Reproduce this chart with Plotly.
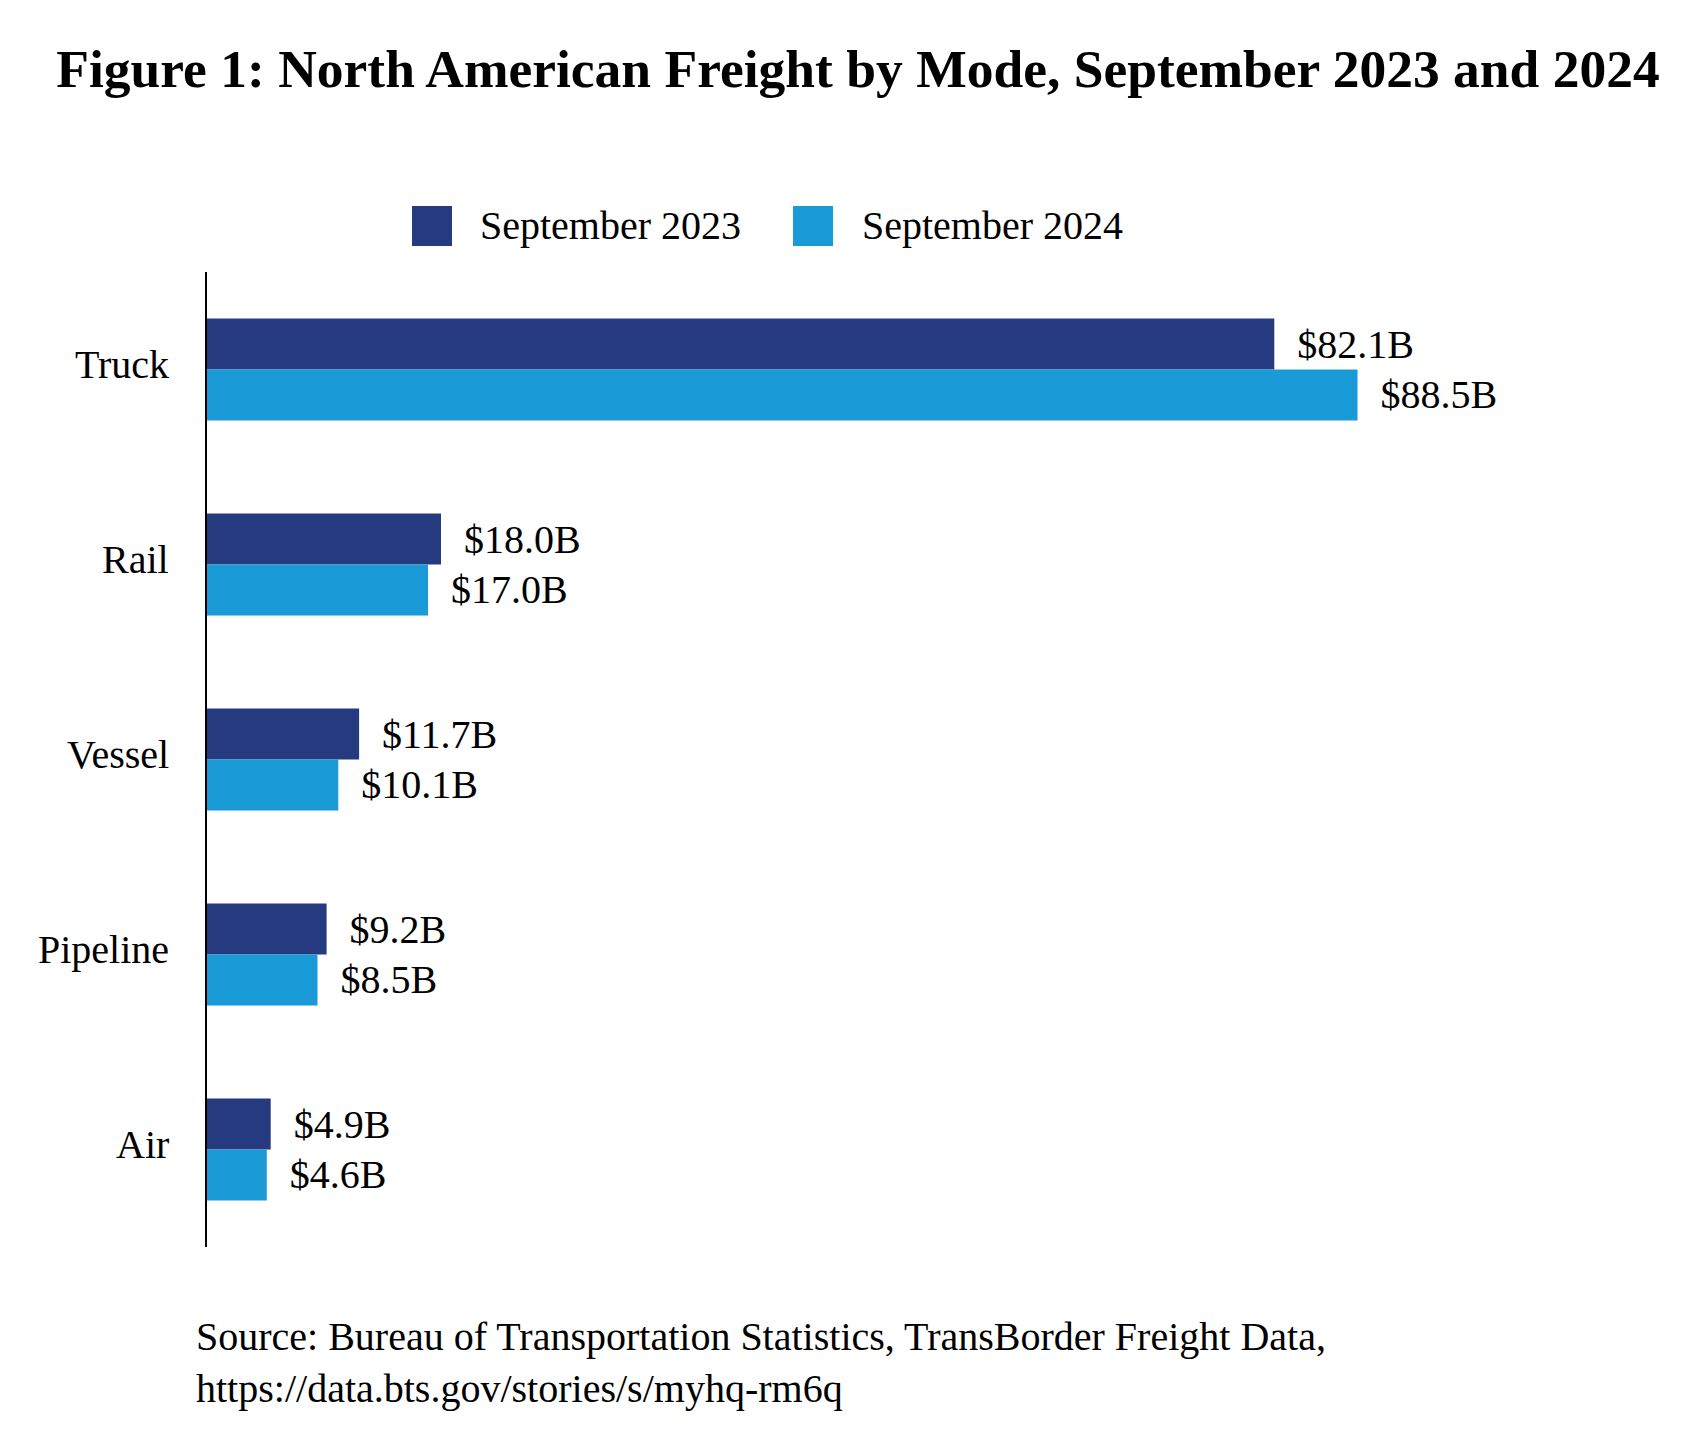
import plotly.graph_objects as go

modes = ["Truck", "Rail", "Vessel", "Pipeline", "Air"]
series_names = ["September 2023", "September 2024"]
sep_2023 = [82.1, 18.0, 11.7, 9.2, 4.9]
sep_2024 = [88.5, 17.0, 10.1, 8.5, 4.6]
colors = ["#253A7F", "#1A9BD7"]

title = "Figure 1: North American Freight by Mode, September 2023 and 2024"
source = ("Source: Bureau of Transportation Statistics, TransBorder Freight Data,"
          "<br>https://data.bts.gov/stories/s/myhq-rm6q")

FONT = "Liberation Serif, Times New Roman, serif"
W, H = 1698, 1446
OFF = 8  # the page body adds an 8px margin, so pull everything back by that much
L, T = 207 - OFF, 272 - OFF
R, B = W - (1650 - OFF), H - (1247 - OFF)
pw, ph = W - L - R, H - T - B


def px_x(x):
    return (x - OFF - L) / pw


def px_y(y):
    return (H - B - (y - OFF)) / ph


fig = go.Figure()
for name, vals, col in zip(series_names, [sep_2023, sep_2024], colors):
    fig.add_trace(go.Bar(
        y=modes, x=vals, name=name, orientation="h",
        marker=dict(color=col, line=dict(width=0)),
        text=["\u00a0\u00a0$%.1fB" % v for v in vals],
        textposition="outside", constraintext="none", cliponaxis=False,
        textfont=dict(family=FONT, size=40, color="black"),
        showlegend=False,
    ))

# category labels sit a little above the group centre in the reference
for m in modes:
    fig.add_annotation(x=0, y=m, xref="paper", yref="y", text=m, showarrow=False,
                       xanchor="right", yanchor="middle", xshift=-36, yshift=5,
                       font=dict(family=FONT, size=40, color="black"))

# legend drawn by hand so the swatches can be as large as the reference
legend_spots = [(412, 478), (793, 860)]
for (sx, tx), name, col in zip(legend_spots, series_names, colors):
    fig.add_shape(type="rect", xref="paper", yref="paper",
                  x0=px_x(sx), x1=px_x(sx + 40), y0=px_y(246), y1=px_y(206),
                  fillcolor=col, line=dict(width=0))
    fig.add_annotation(x=px_x(tx), y=px_y(226), xref="paper", yref="paper",
                       text=name, showarrow=False, xanchor="left", yanchor="middle",
                       font=dict(family=FONT, size=40, color="black"))

fig.add_annotation(x=px_x(194), y=px_y(1312), xref="paper", yref="paper",
                   text=source, showarrow=False, xanchor="left", yanchor="top",
                   align="left", font=dict(family=FONT, size=40, color="black"))

fig.update_layout(
    width=W, height=H,
    margin=dict(l=L, r=R, t=T, b=B),
    paper_bgcolor="white", plot_bgcolor="white",
    barmode="group", bargap=0.478, bargroupgap=0,
    title=dict(text="<b>%s</b>" % title, x=(858 - OFF) / W, xref="container",
               xanchor="center", y=1 - (68 - OFF) / H, yref="container", yanchor="middle",
               font=dict(family=FONT, size=53.5, color="black")),
    xaxis=dict(range=[0, pw / 13.0], visible=False, fixedrange=True),
    yaxis=dict(type="category", categoryorder="array", categoryarray=modes,
               range=[4.5, -0.5], showline=True, linecolor="black", linewidth=2,
               ticks="", showgrid=False, zeroline=False, showticklabels=False),
)

fig.write_html("out.html")
